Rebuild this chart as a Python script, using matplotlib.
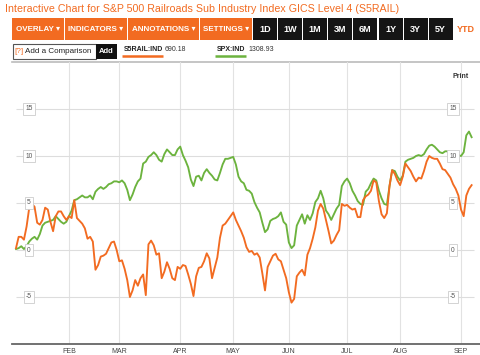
import matplotlib
matplotlib.use("Agg")
import matplotlib.pyplot as plt
import matplotlib.patches as mpatches
import pandas as pd
import numpy as np

plt.rcParams['font.family'] = ['Liberation Sans', 'DejaVu Sans']

# ---------------- data ----------------
holidays = ['2011-01-17', '2011-02-21', '2011-04-22', '2011-05-30', '2011-07-04', '2011-09-05']
dates = pd.bdate_range('2011-01-03', '2011-09-08')
dates = dates[~dates.isin(pd.to_datetime(holidays))]

s5rail = [0.2, 1.4, 1.4, 1.1, 2.5, 4.5, 4.9, 4.6, 2.9, 2.7,
          3.2, 4.5, 4.3, 3.0, 2.0, 3.6, 4.1, 4.1, 3.6, 3.2,
          3.6, 3.4, 5.3, 3.4, 3.1, 2.8, 2.3, 1.2, 1.4, 0.9,
          -2.1, -1.6, -0.7, -0.6, -0.4, 0.2, 0.8, 0.9, 0.0, -1.2,
          -1.1, -2.0, -3.2, -5.0, -4.3, -3.2, -3.8, -3.0, -2.6, -4.8,
          0.6, 1.0, 0.5, -0.5, -0.35, -3.0, -2.3, -1.3, -2.0, -3.0,
          -3.2, -1.8, -2.0, -1.6, -1.7, -2.6, -3.6, -4.9, -2.8, -1.9,
          -1.8, -1.2, -0.35, -0.9, -3.0, -1.9, -0.8, 1.3, 2.6, 2.8,
          3.2, 3.6, 4.0, 3.2, 2.6, 2.0, 1.3, 0.3, -0.2, -0.1,
          -0.5, -0.35, -0.8, -2.5, -4.3, -1.8, -1.2, -0.6, -0.4, -1.0,
          -1.2, -2.1, -3.0, -4.5, -5.6, -5.2, -2.8, -2.4, -2.1, -2.7,
          -0.5, 0.2, 1.2, 2.4, 4.2, 4.9, 4.4, 3.2, 2.0, 0.7,
          1.0, 1.6, 2.1, 4.9, 4.7, 4.8, 4.5, 4.3, 4.4, 3.5,
          3.5, 5.3, 5.7, 5.9, 6.3, 7.4, 7.2, 5.2, 3.8, 3.4,
          3.9, 6.8, 8.5, 8.1, 7.4, 6.9, 7.8, 9.2, 8.8, 8.4,
          7.8, 7.3, 7.7, 7.6, 8.4, 9.4, 10.0, 9.8, 9.7, 9.7,
          9.2, 8.6, 8.5, 8.1, 7.7, 7.0, 6.5, 5.8, 4.3, 3.6,
          5.8, 6.5, 6.9]

spx = [0.1, 0.2, 0.4, 0.1, 0.4, 0.9, 1.2, 1.4, 1.1, 1.7,
       2.6, 2.9, 3.0, 3.1, 3.2, 3.6, 3.3, 3.0, 2.8, 3.0,
       3.6, 4.2, 5.3, 5.4, 5.6, 5.8, 5.6, 5.6, 5.8, 5.4,
       6.2, 6.5, 6.7, 6.5, 6.7, 7.0, 7.1, 7.3, 7.3, 7.2,
       7.4, 7.1, 6.4, 5.3, 5.9, 6.7, 7.3, 7.6, 9.2, 9.4,
       9.9, 10.1, 10.4, 10.1, 9.6, 9.4, 10.2, 10.7, 10.4, 10.1,
       10.1, 10.7, 11.0, 10.1, 9.5, 8.8, 7.5, 6.8, 7.8, 7.9,
       7.4, 8.2, 8.6, 8.2, 7.9, 7.5, 7.4, 8.2, 9.1, 9.7,
       9.7, 9.8, 9.9, 9.1, 7.8, 7.3, 7.1, 6.4, 6.3, 6.0,
       5.1, 4.5, 4.0, 2.9, 1.9, 2.2, 3.1, 3.3, 3.4, 3.6,
       4.0, 3.0, 2.7, 0.8, 0.2, 0.5, 2.6, 3.2, 3.8, 2.8,
       3.7, 3.2, 3.9, 5.1, 5.5, 6.3, 5.5, 4.2, 3.8, 3.2,
       3.8, 4.4, 4.8, 6.8, 7.3, 7.6, 7.1, 6.3, 5.8, 5.2,
       4.9, 4.8, 6.2, 6.5, 7.1, 7.6, 7.4, 6.3, 5.5, 4.9,
       4.8, 6.8, 8.5, 8.4, 7.8, 7.4, 7.9, 9.4, 9.6, 9.7,
       9.8, 10.0, 10.1, 10.0, 10.2, 10.7, 11.1, 11.2, 11.0, 10.7,
       10.4, 10.3, 10.5, 10.5, 10.4, 10.3, 10.2, 10.1, 10.0, 10.4,
       12.2, 12.6, 12.0]

y_ticks = [-5, 0, 5, 10, 15]
month_labels = ['FEB', 'MAR', 'APR', 'MAY', 'JUN', 'JUL', 'AUG', 'SEP']
buttons_menu = ['OVERLAY \u25be', 'INDICATORS \u25be', 'ANNOTATIONS \u25be', 'SETTINGS \u25be']
buttons_range = ['1D', '1W', '1M', '3M', '6M', '1Y', '3Y', '5Y']
last_s5rail = '690.18'
last_spx = '1308.93'

n = min(len(dates), len(s5rail), len(spx))
idx = np.arange(n)

ORANGE = '#f26b21'
GREEN = '#6cb33e'
W, H = 480, 355

fig = plt.figure(figsize=(W / 100, H / 100), dpi=100)
bg = fig.add_axes([0, 0, 1, 1])
bg.set_xlim(0, W)
bg.set_ylim(H, 0)
bg.axis('off')

# title
bg.text(5, 9, 'Interactive Chart for S&P 500 Railroads Sub Industry Index GICS Level 4 (S5RAIL)',
        color=ORANGE, fontsize=7.7, va='center', ha='left')

# menu buttons
menu_x = [12, 65, 128, 200, 253]
for i, lab in enumerate(buttons_menu):
    x0, x1 = menu_x[i], menu_x[i + 1] - 1
    bg.add_patch(mpatches.Rectangle((x0, 18), x1 - x0, 22, color=ORANGE, lw=0))
    bg.text((x0 + x1) / 2, 29.5, lab, color='white', fontsize=5.8, fontweight='bold',
            ha='center', va='center')
for i, lab in enumerate(buttons_range):
    x0 = 253 + i * 25.1
    bg.add_patch(mpatches.Rectangle((x0, 18), 24, 22, color='#151515', lw=0))
    bg.text(x0 + 12, 29.5, lab, color='white', fontsize=6.5, fontweight='bold',
            ha='center', va='center')
bg.text(466, 29.5, 'YTD', color=ORANGE, fontsize=6.5, fontweight='bold', ha='center', va='center')

# comparison row
bg.add_patch(mpatches.Rectangle((12.5, 44), 83, 15, facecolor='white', edgecolor='#555555', lw=0.8))
bg.text(14, 51.5, '[?]', color=ORANGE, fontsize=5.8, ha='left', va='center')
bg.text(25, 51.5, 'Add a Comparison', color='#222222', fontsize=5.8, ha='left', va='center')
bg.add_patch(mpatches.Rectangle((96, 44), 21, 15, color='#111111', lw=0))
bg.text(106.5, 51.5, 'Add', color='white', fontsize=5.5, fontweight='bold', ha='center', va='center')
bg.text(124, 49.5, 'S5RAIL:IND', color='#222222', fontsize=5.0, fontweight='bold', ha='left', va='center')
bg.text(165, 49.5, last_s5rail, color='#333333', fontsize=5.0, ha='left', va='center')
bg.plot([122, 163], [56, 56], color=ORANGE, lw=1.8, solid_capstyle='butt')
bg.text(217, 49.5, 'SPX:IND', color='#222222', fontsize=5.0, fontweight='bold', ha='left', va='center')
bg.text(248, 49.5, last_spx, color='#333333', fontsize=5.0, ha='left', va='center')
bg.plot([215, 246], [56, 56], color=GREEN, lw=1.8, solid_capstyle='butt')

# top border of chart area
bg.plot([12, 480], [62, 62], color='#bbbbbb', lw=1.2)
bg.text(469, 76, 'Print', color='#333333', fontsize=5.0, fontweight='bold', ha='right', va='center')

# ---------------- chart ----------------
x_left_px, x_right_px = 12, 480
y_top_px, y_bot_px = 62, 344
ax = fig.add_axes([x_left_px / W, 1 - y_bot_px / H, (x_right_px - x_left_px) / W, (y_bot_px - y_top_px) / H])
ax.patch.set_alpha(0)
px_per_day = 2.649
ax.set_xlim(-4 / px_per_day, (x_right_px - 16) / px_per_day)
ax.set_ylim(-10, 20)
for sp in ['top', 'left', 'right']:
    ax.spines[sp].set_visible(False)
ax.spines['bottom'].set_color('#666666')
ax.spines['bottom'].set_linewidth(1.3)
ax.set_yticks([])

# month ticks at first trading day of month
month_pos = [int(np.argmax(dates.month == m)) for m in range(2, 10)]
ax.set_xticks(month_pos)
ax.set_xticklabels(month_labels, fontsize=5.0, color='#444444')
ax.tick_params(axis='x', length=0, pad=3)
for p in month_pos:
    ax.axvline(p, color='#e2e2e2', lw=0.8, zorder=0)
grid_end = (474 - 16) / px_per_day
for v in y_ticks:
    ax.hlines(v, 0, grid_end, color='#dddddd', lw=0.8, zorder=0)

ax.plot(idx, spx[:n], color=GREEN, lw=1.35, zorder=3)
ax.plot(idx, s5rail[:n], color=ORANGE, lw=1.35, zorder=3)

box = dict(boxstyle='square,pad=0.35', facecolor='white', edgecolor='#cccccc', lw=0.6)
left_lab = (29 - 16) / px_per_day
right_lab = (453 - 16) / px_per_day
for v in y_ticks:
    ax.text(left_lab, v, str(v), fontsize=4.8, color='#555555', ha='center', va='center',
            bbox=box, zorder=5)
    ax.text(right_lab, v, str(v), fontsize=4.8, color='#555555', ha='center', va='center',
            bbox=box, zorder=5)

fig.savefig('out.png', dpi=100)
